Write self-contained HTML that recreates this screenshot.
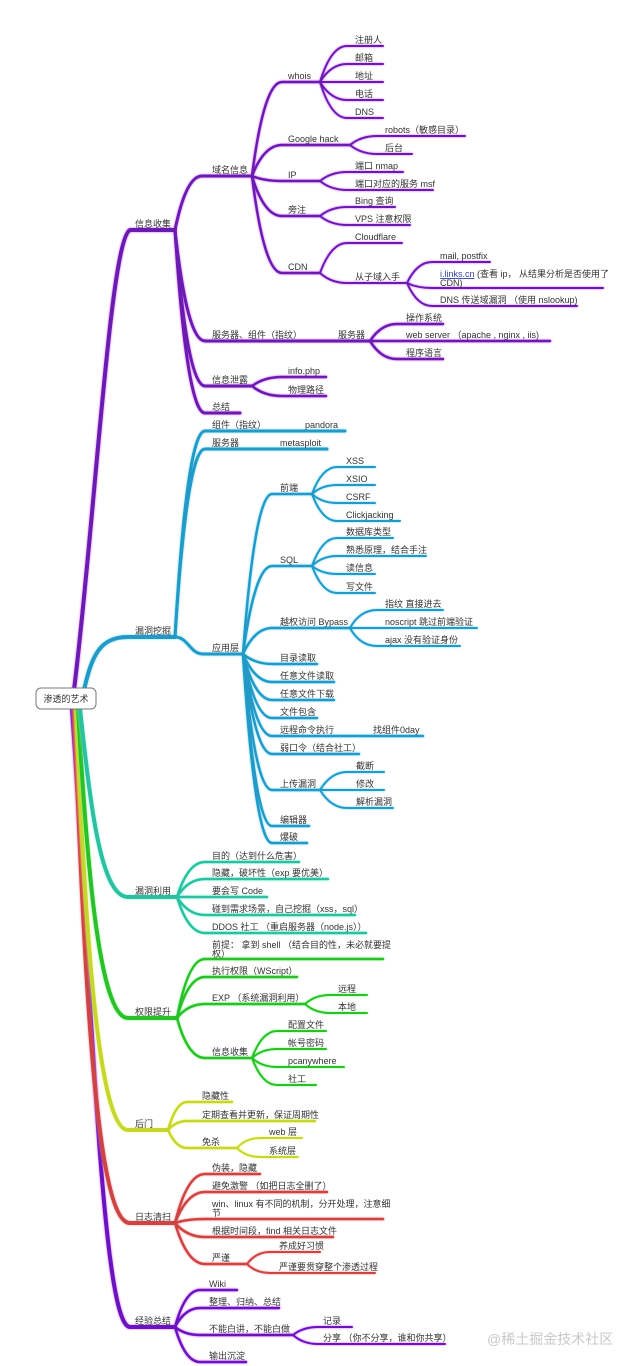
<!DOCTYPE html>
<html><head><meta charset="utf-8"><style>
html,body{margin:0;padding:0;background:#fff;}
svg{display:block;}
text{font-family:"Liberation Sans","Noto Sans CJK SC",sans-serif;font-size:9px;fill:#333;}
.gp{filter:drop-shadow(0 0 1px #d060ff);}
.gt{filter:drop-shadow(0 0 1px #70d8ff);}
.gb{filter:drop-shadow(0 0 1px #d060ff);}
.gr{filter:drop-shadow(0 0 1px #ff9090);}
.gy{filter:drop-shadow(0 0 1px #f0ff70);}
.gg{filter:drop-shadow(0 0 1px #80ff80);}
.gu{filter:drop-shadow(0 0 1px #80ffe0);}
</style></head><body>
<svg width="635" height="1366" viewBox="0 0 635 1366" xmlns="http://www.w3.org/2000/svg">
<rect width="635" height="1366" fill="#fff"/>

<!-- ========== PURPLE TOP: 信息收集 ========== -->
<g class="gp" fill="none" stroke="#6a1cb0" stroke-linecap="round">
  <path d="M74,690 C95,520 110,240 130,230 H175" stroke-width="4"/>
  <path d="M175,230 Q186,176 202,176 H252" stroke-width="3"/>
  <path d="M175,230 Q187,341 205,341 H370" stroke-width="3"/>
  <path d="M175,230 Q187,386 205,386 H252" stroke-width="3"/>
  <path d="M175,230 Q187,413 205,413 H240" stroke-width="3"/>
  <g stroke-width="2.5">
    <path d="M252,176 Q264,82 282,82 H320"/>
    <path d="M252,176 Q264,145 282,145 H350"/>
    <path d="M252,176 Q264,181 282,181 H320"/>
    <path d="M252,176 Q264,216 282,216 H320"/>
    <path d="M252,176 Q264,273 282,273 H320"/>
    <path d="M370,341 Q381,324 397,324 H443"/>
    <path d="M370,341 H550"/>
    <path d="M370,341 Q381,359 397,359 H443"/>
    <path d="M252,386 Q264,377 282,377 H326"/>
    <path d="M252,386 Q264,396 282,396 H326"/>
  </g>
  <g stroke-width="2">
    <path d="M320,82 Q331,46 347,46 H383"/>
    <path d="M320,82 Q331,64 347,64 H383"/>
    <path d="M320,82 H383"/>
    <path d="M320,82 Q331,100 347,100 H383"/>
    <path d="M320,82 Q331,118 347,118 H383"/>
    <path d="M350,145 Q361,136 377,136 H465"/>
    <path d="M350,145 Q361,154 377,154 H412"/>
    <path d="M320,181 Q331,172 347,172 H403"/>
    <path d="M320,181 Q331,190 347,190 H433"/>
    <path d="M320,216 Q331,207 347,207 H395"/>
    <path d="M320,216 Q331,225 347,225 H410"/>
    <path d="M320,273 Q331,243 347,243 H402"/>
    <path d="M320,273 Q331,283 347,283 H407"/>
    <path d="M407,283 Q417,262 432,262 H490"/>
    <path d="M407,283 Q417,288 432,288 H603"/>
    <path d="M407,283 Q417,306 432,306 H577"/>
  </g>
</g>
<g>
  <text x="135" y="227">信息收集</text>
  <text x="212" y="173">域名信息</text>
  <text x="212" y="338">服务器、组件（指纹）</text>
  <text x="338" y="338">服务器</text>
  <text x="212" y="383">信息泄露</text>
  <text x="212" y="410">总结</text>
  <text x="288" y="79">whois</text>
  <text x="288" y="142">Google hack</text>
  <text x="288" y="178">IP</text>
  <text x="288" y="213">旁注</text>
  <text x="288" y="270">CDN</text>
  <text x="355" y="43">注册人</text>
  <text x="355" y="61">邮箱</text>
  <text x="355" y="79">地址</text>
  <text x="355" y="97">电话</text>
  <text x="355" y="115">DNS</text>
  <text x="385" y="133">robots（敏感目录）</text>
  <text x="385" y="151">后台</text>
  <text x="355" y="169">端口 nmap</text>
  <text x="355" y="187">端口对应的服务 msf</text>
  <text x="355" y="204">Bing 查询</text>
  <text x="355" y="222">VPS 注意权限</text>
  <text x="355" y="240">Cloudflare</text>
  <text x="355" y="280">从子域入手</text>
  <text x="440" y="259">mail, postfix</text>
  <text x="440" y="277"><tspan fill="#3344aa" text-decoration="underline">i.links.cn</tspan> (查看 ip， 从结果分析是否使用了</text>
  <text x="440" y="286">CDN)</text>
  <text x="440" y="303">DNS 传送域漏洞 （使用 nslookup)</text>
  <text x="406" y="321">操作系统</text>
  <text x="406" y="338">web server （apache , nginx , iis)</text>
  <text x="406" y="356">程序语言</text>
  <text x="288" y="374">info.php</text>
  <text x="288" y="393">物理路径</text>
</g>

<!-- ========== TEAL: 漏洞挖掘 ========== -->
<g class="gt" fill="none" stroke="#2399c6" stroke-linecap="round">
  <path d="M84,690 C92,655 100,637 128,637 H175" stroke-width="4"/>
  <path d="M175,637 Q187,431 205,431 H345" stroke-width="3"/>
  <path d="M175,637 Q187,449 205,449 H327" stroke-width="3"/>
  <path d="M175,637 C188,637 190,654 203,654 H243" stroke-width="3"/>
  <g stroke-width="2.5">
    <path d="M243,654 Q255,494 272,494 H312"/>
    <path d="M243,654 Q255,566 272,566 H312"/>
    <path d="M243,654 Q255,628 272,628 H350"/>
    <path d="M243,654 Q255,664 272,664 H317"/>
    <path d="M243,654 Q255,682 272,682 H334"/>
    <path d="M243,654 Q255,700 272,700 H334"/>
    <path d="M243,654 Q255,718 272,718 H317"/>
    <path d="M243,654 Q255,736 272,736 H423"/>
    <path d="M243,654 Q255,754 272,754 H359"/>
    <path d="M243,654 Q255,790 272,790 H320"/>
    <path d="M243,654 Q255,826 272,826 H309"/>
    <path d="M243,654 Q255,843 272,843 H307"/>
  </g>
  <g stroke-width="2">
    <path d="M312,494 Q322,467 337,467 H375"/>
    <path d="M312,494 Q322,485 337,485 H375"/>
    <path d="M312,494 Q322,503 337,503 H375"/>
    <path d="M312,494 Q322,521 337,521 H400"/>
    <path d="M312,566 Q322,538 337,538 H393"/>
    <path d="M312,566 Q322,556 337,556 H426"/>
    <path d="M312,566 Q322,574 337,574 H375"/>
    <path d="M312,566 Q322,593 337,593 H375"/>
    <path d="M350,628 Q360,610 377,610 H443"/>
    <path d="M350,628 H477"/>
    <path d="M350,628 Q360,646 377,646 H460"/>
    <path d="M320,790 Q331,772 347,772 H384"/>
    <path d="M320,790 H384"/>
    <path d="M320,790 Q331,808 347,808 H393"/>
  </g>
</g>
<g>
  <text x="135" y="634">漏洞挖掘</text>
  <text x="212" y="428">组件（指纹）</text>
  <text x="305" y="428">pandora</text>
  <text x="212" y="446">服务器</text>
  <text x="280" y="446">metasploit</text>
  <text x="212" y="651">应用层</text>
  <text x="280" y="491">前端</text>
  <text x="280" y="563">SQL</text>
  <text x="280" y="625">越权访问 Bypass</text>
  <text x="280" y="661">目录读取</text>
  <text x="280" y="679">任意文件读取</text>
  <text x="280" y="697">任意文件下载</text>
  <text x="280" y="715">文件包含</text>
  <text x="280" y="733">远程命令执行</text>
  <text x="373" y="733">找组件0day</text>
  <text x="280" y="751">弱口令（结合社工）</text>
  <text x="280" y="787">上传漏洞</text>
  <text x="280" y="823">编辑器</text>
  <text x="280" y="840">爆破</text>
  <text x="346" y="464">XSS</text>
  <text x="346" y="482">XSIO</text>
  <text x="346" y="500">CSRF</text>
  <text x="346" y="518">Clickjacking</text>
  <text x="346" y="535">数据库类型</text>
  <text x="346" y="553">熟悉原理，结合手注</text>
  <text x="346" y="571">读信息</text>
  <text x="346" y="590">写文件</text>
  <text x="385" y="607">指纹 直接进去</text>
  <text x="385" y="625">noscript 跳过前端验证</text>
  <text x="385" y="643">ajax 没有验证身份</text>
  <text x="356" y="769">截断</text>
  <text x="356" y="787">修改</text>
  <text x="356" y="805">解析漏洞</text>
</g>

<!-- ========== BOTTOM PURPLE: 经验总结 ========== -->
<g class="gb" fill="none" stroke="#6a14c0" stroke-linecap="round">
  <path d="M72,709 C92,1000 102,1327 130,1327 H175" stroke-width="4"/>
  <g stroke-width="2.5">
    <path d="M175,1327 Q185,1290 200,1290 H237"/>
    <path d="M175,1327 Q185,1308 200,1308 H279"/>
    <path d="M175,1327 Q185,1335 200,1335 H293"/>
    <path d="M175,1327 Q185,1362 200,1362 H246"/>
  </g>
  <g stroke-width="2">
    <path d="M293,1335 Q303,1327 318,1327 H352"/>
    <path d="M293,1335 Q303,1344 318,1344 H445"/>
  </g>
</g>

<!-- ========== RED: 日志清扫 ========== -->
<g class="gr" fill="none" stroke="#cc4444" stroke-linecap="round">
  <path d="M74,709 C84,950 94,1223 130,1223 H175" stroke-width="4"/>
  <g stroke-width="2.5">
    <path d="M175,1223 Q187,1174 205,1174 H260"/>
    <path d="M175,1223 Q187,1192 205,1192 H327"/>
    <path d="M175,1223 Q187,1219 205,1219 H383"/>
    <path d="M175,1223 Q187,1237 205,1237 H333"/>
    <path d="M175,1223 Q187,1264 205,1264 H247"/>
  </g>
  <g stroke-width="2">
    <path d="M247,1264 Q256,1252 270,1252 H320"/>
    <path d="M247,1264 Q256,1273 270,1273 H375"/>
  </g>
</g>

<!-- ========== YELLOW: 后门 ========== -->
<g class="gy" fill="none" stroke="#c6d62e" stroke-linecap="round">
  <path d="M76,709 C84,900 96,1130 128,1130 H168" stroke-width="4"/>
  <g stroke-width="2.5">
    <path d="M168,1130 Q176,1102 187,1102 H232"/>
    <path d="M168,1130 Q176,1121 187,1121 H315"/>
    <path d="M168,1130 Q176,1148 187,1148 H237"/>
  </g>
  <g stroke-width="2">
    <path d="M237,1148 Q246,1138 260,1138 H302"/>
    <path d="M237,1148 Q246,1157 260,1157 H298"/>
  </g>
</g>

<!-- ========== GREEN: 权限提升 ========== -->
<g class="gg" fill="none" stroke="#2bbf2b" stroke-linecap="round">
  <path d="M78,709 C86,850 98,1018 128,1018 H177" stroke-width="4"/>
  <g stroke-width="2.5">
    <path d="M177,1018 Q188,959 205,959 H383"/>
    <path d="M177,1018 Q188,977 205,977 H297"/>
    <path d="M177,1018 Q188,1004 205,1004 H305"/>
    <path d="M177,1018 Q188,1058 205,1058 H252"/>
  </g>
  <g stroke-width="2">
    <path d="M305,1004 Q315,995 330,995 H367"/>
    <path d="M305,1004 Q315,1013 330,1013 H367"/>
    <path d="M252,1058 Q262,1031 277,1031 H326"/>
    <path d="M252,1058 Q262,1049 277,1049 H326"/>
    <path d="M252,1058 Q262,1067 277,1067 H344"/>
    <path d="M252,1058 Q262,1085 277,1085 H316"/>
  </g>
</g>

<!-- ========== TURQUOISE: 漏洞利用 ========== -->
<g class="gu" fill="none" stroke="#2dbfa0" stroke-linecap="round">
  <path d="M80,709 C90,800 100,897 128,897 H177" stroke-width="4"/>
  <g stroke-width="2.5">
    <path d="M177,897 Q188,862 205,862 H299"/>
    <path d="M177,897 Q188,879 205,879 H328"/>
    <path d="M177,897 H267"/>
    <path d="M177,897 Q188,915 205,915 H355"/>
    <path d="M177,897 Q188,933 205,933 H366"/>
  </g>
</g>

<!-- texts lower half -->
<g>
  <text x="135" y="894">漏洞利用</text>
  <text x="212" y="859">目的（达到什么危害）</text>
  <text x="212" y="876">隐藏，破坏性（exp 要优美）</text>
  <text x="212" y="894">要会写 Code</text>
  <text x="212" y="912">碰到需求场景，自己挖掘（xss，sql）</text>
  <text x="212" y="930">DDOS 社工 （重启服务器（node.js））</text>

  <text x="135" y="1015">权限提升</text>
  <text x="212" y="948">前提： 拿到 shell （结合目的性，未必就要提</text>
  <text x="212" y="957">权）</text>
  <text x="212" y="974">执行权限（WScript）</text>
  <text x="212" y="1001">EXP （系统漏洞利用）</text>
  <text x="212" y="1055">信息收集</text>
  <text x="338" y="992">远程</text>
  <text x="338" y="1010">本地</text>
  <text x="288" y="1028">配置文件</text>
  <text x="288" y="1046">帐号密码</text>
  <text x="288" y="1064">pcanywhere</text>
  <text x="288" y="1082">社工</text>

  <text x="135" y="1127">后门</text>
  <text x="202" y="1099">隐藏性</text>
  <text x="202" y="1118">定期查看并更新，保证周期性</text>
  <text x="202" y="1145">免杀</text>
  <text x="269" y="1135">web 层</text>
  <text x="269" y="1154">系统层</text>

  <text x="135" y="1220">日志清扫</text>
  <text x="212" y="1171">伪装，隐藏</text>
  <text x="212" y="1189">避免激警 （如把日志全删了）</text>
  <text x="212" y="1207">win、linux 有不同的机制，分开处理，注意细</text>
  <text x="212" y="1216">节</text>
  <text x="212" y="1234">根据时间段，find 相关日志文件</text>
  <text x="212" y="1261">严谨</text>
  <text x="279" y="1249">养成好习惯</text>
  <text x="279" y="1270">严谨要贯穿整个渗透过程</text>

  <text x="135" y="1324">经验总结</text>
  <text x="209" y="1287">Wiki</text>
  <text x="209" y="1305">整理、归纳、总结</text>
  <text x="209" y="1332">不能白讲，不能白做</text>
  <text x="323" y="1324">记录</text>
  <text x="323" y="1341">分享 （你不分享，谁和你共享）</text>
  <text x="209" y="1359">输出沉淀</text>
</g>

<!-- root node -->
<rect x="36" y="688" width="60" height="21" rx="5" ry="5" fill="#fff" stroke="#777" stroke-width="1"/>
<text x="66" y="702" text-anchor="middle">渗透的艺术</text>

<!-- watermark -->
<text x="487" y="1344" style="font-size:14px;fill:#c8c8c8;">@稀土掘金技术社区</text>
</svg>
</body></html>
